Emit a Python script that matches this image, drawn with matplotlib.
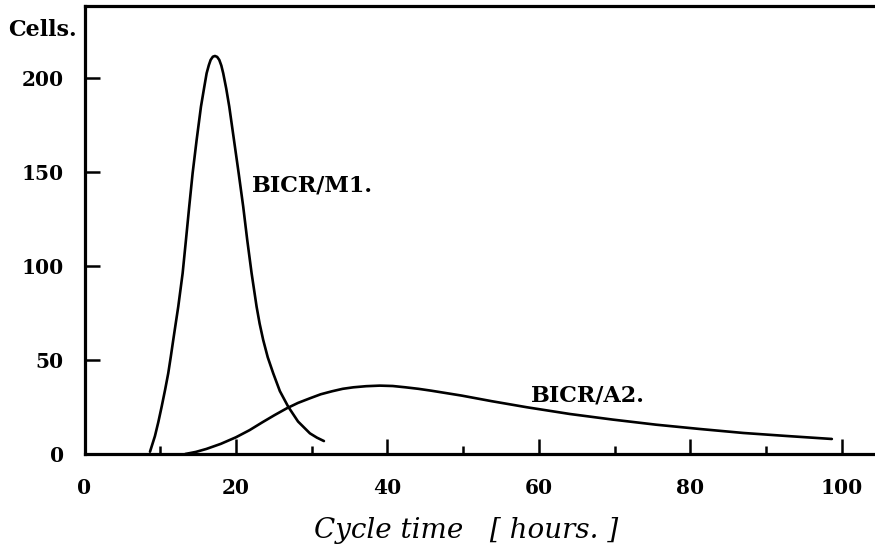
import matplotlib
matplotlib.use("Agg")
import matplotlib.pyplot as plt
from matplotlib.ticker import MultipleLocator

# Data
m1_x = [8.65, 9.3, 9.75, 10.19, 10.65, 11.06, 11.40, 11.72, 12.05, 12.38, 12.67, 12.96,
        13.40, 13.83, 14.28, 14.81, 15.38, 15.80, 16.13, 16.42, 16.66, 16.95, 17.23,
        17.52, 17.80, 18.07, 18.32, 18.72, 19.12, 19.74, 20.36, 20.96, 21.49, 22.07,
        22.73, 23.13, 23.60, 24.20, 24.92, 25.80, 26.90, 28.20, 29.77, 30.70, 31.62]
m1_y = [1.2, 9.5, 17.0, 25.2, 34.3, 43.0, 51.9, 60.7, 69.6, 78.4, 87.3, 96.2,
        114.0, 131.7, 149.5, 167.2, 184.9, 195.0, 202.7, 207.0, 209.8, 211.5, 211.9,
        211.4, 209.8, 206.8, 202.7, 194.5, 184.9, 167.2, 149.5, 131.7, 114.0, 96.2,
        78.4, 69.4, 60.7, 51.5, 43.0, 33.5, 25.2, 17.3, 11.0, 8.7, 6.9]

a2_x = [13.3, 14.7, 16.1, 18.0, 20.0, 21.8, 23.5, 25.1, 26.7, 28.2, 29.8, 31.2, 32.7,
        34.1, 35.5, 37.2, 39.0, 40.7, 42.4, 44.1, 45.8, 49.8, 53.8, 58.4, 64.1, 69.8,
        75.5, 81.3, 87.0, 92.7, 98.7]
a2_y = [0.0, 1.1, 2.7, 5.4, 8.9, 12.7, 16.9, 20.7, 24.3, 27.2, 29.7, 31.8, 33.4,
        34.7, 35.5, 36.1, 36.4, 36.2, 35.5, 34.7, 33.7, 31.1, 28.1, 24.9, 21.3, 18.3,
        15.6, 13.3, 11.2, 9.6, 8.0]

x_ticks = [0, 20, 40, 60, 80, 100]
y_ticks = [0, 50, 100, 150, 200]
series_labels = ["BICR/M1.", "BICR/A2."]

fig = plt.figure(figsize=(8.75, 5.57), dpi=100)
ax = fig.add_axes([84.5 / 875, 1 - 454 / 557, 1 - 84.5 / 875, 448 / 557])

ax.plot(m1_x, m1_y, color="black", lw=1.9, solid_capstyle="round", solid_joinstyle="round")
ax.plot(a2_x, a2_y, color="black", lw=1.9, solid_capstyle="round", solid_joinstyle="round")

ax.set_xlim(0, 104.4)
ax.set_ylim(0, 238.5)

for s in ["left", "bottom", "top"]:
    ax.spines[s].set_linewidth(2.3)
ax.spines["right"].set_visible(False)

ax.set_xticks(x_ticks)
ax.set_yticks(y_ticks)
ax.xaxis.set_minor_locator(MultipleLocator(10))
ax.tick_params(axis="both", which="major", direction="in", length=11, width=1.8,
               pad=15, labelsize=14.5)
ax.tick_params(axis="x", which="minor", direction="in", length=6, width=1.8)
ax.tick_params(axis="x", which="major", pad=17)
for lab in ax.get_xticklabels() + ax.get_yticklabels():
    lab.set_fontfamily("DejaVu Serif")
    lab.set_fontweight("bold")

ax.text(22.1, 143.2, series_labels[0], fontfamily="DejaVu Serif", fontweight="bold",
        fontsize=16, va="center", ha="left")
ax.text(58.9, 31.4, series_labels[1], fontfamily="DejaVu Serif", fontweight="bold",
        fontsize=16, va="center", ha="left")

fig.text(8 / 875, 1 - 30 / 557, "Cells.", fontfamily="DejaVu Serif", fontweight="bold",
         fontsize=16, va="center", ha="left")
fig.text(466 / 875, 1 - 530 / 557, "Cycle time   [ hours. ]", fontfamily="DejaVu Serif",
         fontstyle="italic", fontsize=20, va="center", ha="center")

fig.savefig("out.png", dpi=100)
